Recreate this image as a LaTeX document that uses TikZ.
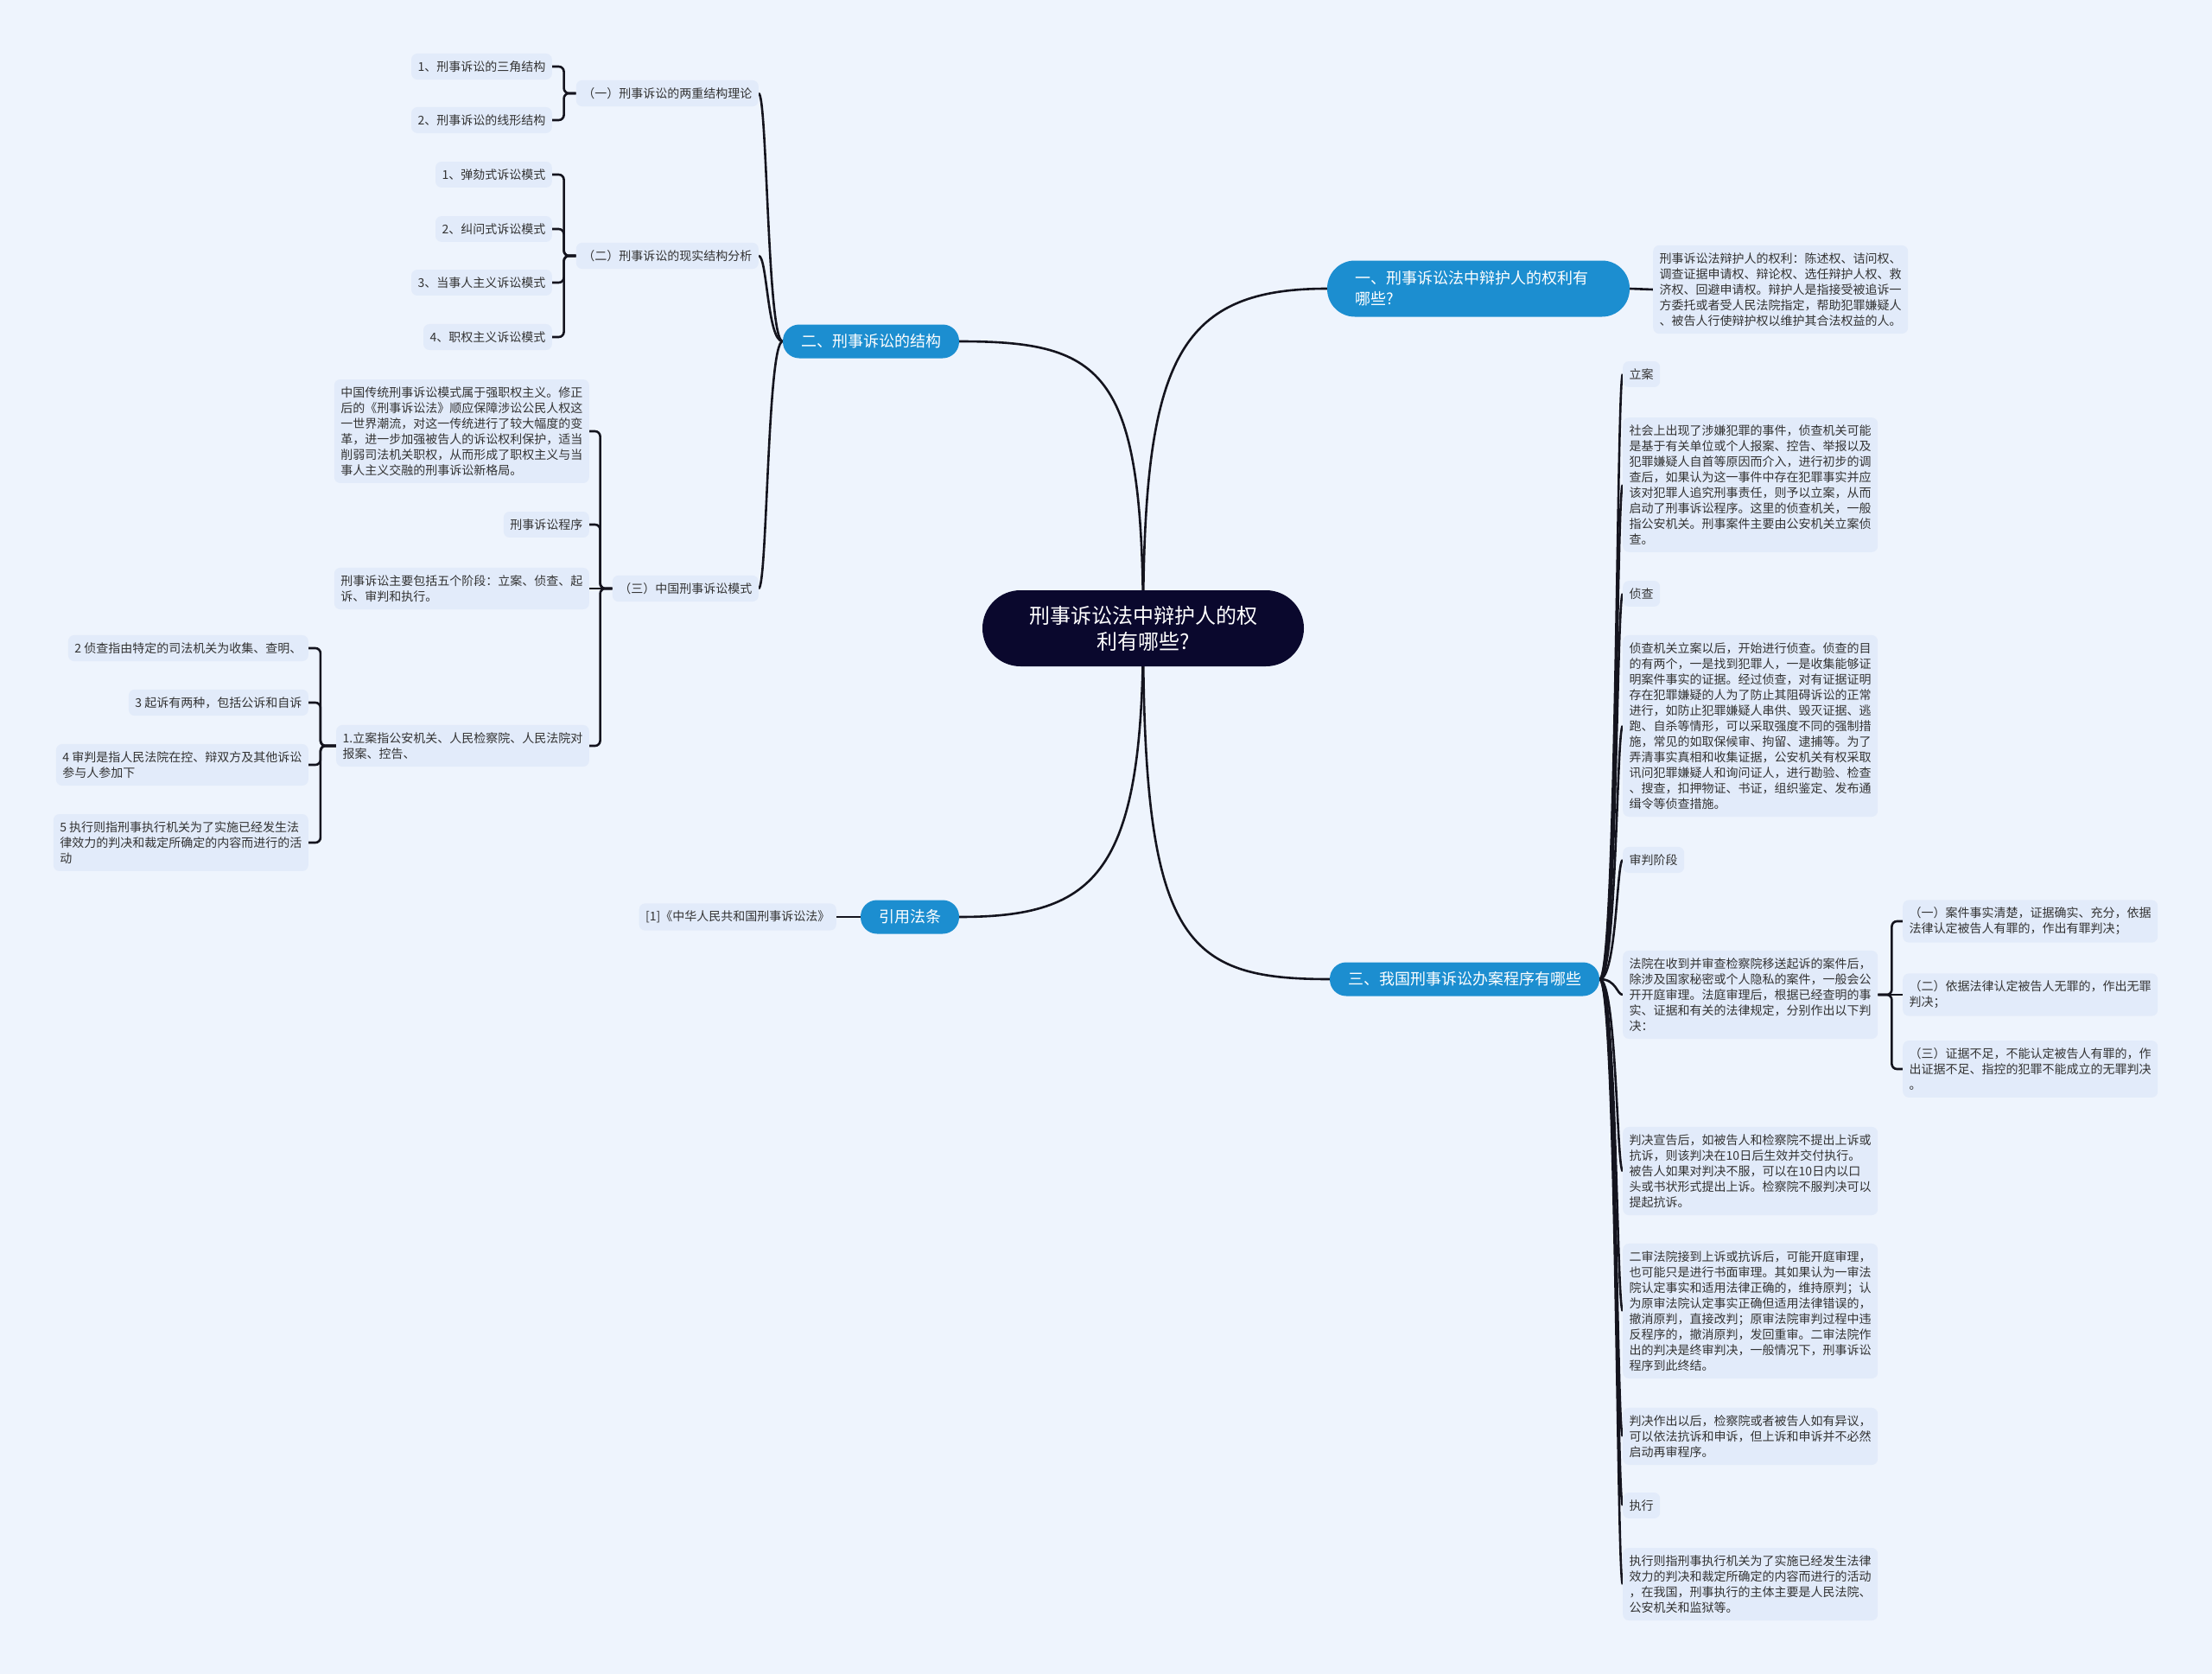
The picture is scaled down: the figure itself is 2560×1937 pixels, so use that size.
\documentclass[tikz,border=0pt]{standalone}
\usepackage{fontspec}
\setmainfont{Noto Sans CJK SC}
\usetikzlibrary{backgrounds}
\definecolor{canvasBlue}{RGB}{238,244,253}
\definecolor{leafFill}{RGB}{226,235,250}
\definecolor{branchBlue}{RGB}{28,142,208}
\definecolor{rootNavy}{RGB}{10,8,45}
\definecolor{inkGray}{RGB}{51,51,51}
\definecolor{lineInk}{RGB}{20,20,30}
\tikzset{
  rootnode/.style={fill=rootNavy,text=white,rounded corners=44pt,minimum width=372pt,minimum height=88pt,align=center,font=\fontsize{24}{30}\selectfont},
  branchnode/.style={fill=branchBlue,text=white,rounded corners=19pt,inner xsep=21pt,inner ysep=10.5pt,minimum height=39pt,font=\fontsize{18}{24}\selectfont},
  leafnode/.style={fill=leafFill,text=inkGray,rounded corners=7pt,inner xsep=7.5pt,inner ysep=8.5pt,align=left,font=\fontsize{14}{18}\selectfont},
  link/.style={draw=lineInk,line width=2.6pt},
  bracketlink/.style={draw=lineInk,line width=2.6pt,rounded corners=6pt}
}
\begin{document}
\begin{tikzpicture}[x=1pt,y=-1pt]
\node[rootnode] (rootq) at (1323,727) {刑事诉讼法中辩护人的权\\利有哪些?};

\node[branchnode,rounded corners=32pt,text width=286pt,align=left,inner xsep=32pt,minimum height=65pt] (rights) at (1711,334) {一、刑事诉讼法中辩护人的权利有\\哪些?};
\node[branchnode] (structure) at (1008,395) {二、刑事诉讼的结构};
\node[branchnode] (citation) at (1053,1061) {引用法条};
\node[branchnode] (procedure) at (1695,1133) {三、我国刑事诉讼办案程序有哪些};

\node[leafnode,anchor=west] (rightsnote) at (1913,335) {刑事诉讼法辩护人的权利：陈述权、诘问权、\\调查证据申请权、辩论权、选任辩护人权、救\\济权、回避申请权。辩护人是指接受被追诉一\\方委托或者受人民法院指定，帮助犯罪嫌疑人\\、被告人行使辩护权以维护其合法权益的人。};

\node[leafnode,anchor=east] (twofold) at (878,108) {（一）刑事诉讼的两重结构理论};
\node[leafnode,anchor=east] (actual) at (878,296) {（二）刑事诉讼的现实结构分析};
\node[leafnode,anchor=east] (chinamode) at (878,681) {（三）中国刑事诉讼模式};

\node[leafnode,anchor=east] (triangle) at (639,77) {1、刑事诉讼的三角结构};
\node[leafnode,anchor=east] (linear) at (639,139) {2、刑事诉讼的线形结构};
\node[leafnode,anchor=east] (impeach) at (639,202) {1、弹劾式诉讼模式};
\node[leafnode,anchor=east] (inquis) at (639,265) {2、纠问式诉讼模式};
\node[leafnode,anchor=east] (adversary) at (639,327) {3、当事人主义诉讼模式};
\node[leafnode,anchor=east] (authority) at (639,390) {4、职权主义诉讼模式};

\node[leafnode,anchor=east] (chinatext) at (682,499) {中国传统刑事诉讼模式属于强职权主义。修正\\后的《刑事诉讼法》顺应保障涉讼公民人权这\\一世界潮流，对这一传统进行了较大幅度的变\\革，进一步加强被告人的诉讼权利保护，适当\\削弱司法机关职权，从而形成了职权主义与当\\事人主义交融的刑事诉讼新格局。};
\node[leafnode,anchor=east] (procname) at (682,607) {刑事诉讼程序};
\node[leafnode,anchor=east] (fivestages) at (682,681) {刑事诉讼主要包括五个阶段：立案、侦查、起\\诉、审判和执行。};
\node[leafnode,anchor=east] (filing) at (682,863) {1.立案指公安机关、人民检察院、人民法院对\\报案、控告、};

\node[leafnode,anchor=east] (investdef) at (357,750) {2 侦查指由特定的司法机关为收集、查明、};
\node[leafnode,anchor=east] (prosecdef) at (357,813) {3 起诉有两种，包括公诉和自诉};
\node[leafnode,anchor=east] (trialdef) at (357,885) {4 审判是指人民法院在控、辩双方及其他诉讼\\参与人参加下};
\node[leafnode,anchor=east] (execdef) at (357,975) {5 执行则指刑事执行机关为了实施已经发生法\\律效力的判决和裁定所确定的内容而进行的活\\动};

\node[leafnode,anchor=east] (refbook) at (968,1061) {[1]《中华人民共和国刑事诉讼法》};

\node[leafnode,anchor=west] (stfiling) at (1878,433) {立案};
\node[leafnode,anchor=west] (stfilingtext) at (1878,561) {社会上出现了涉嫌犯罪的事件，侦查机关可能\\是基于有关单位或个人报案、控告、举报以及\\犯罪嫌疑人自首等原因而介入，进行初步的调\\查后，如果认为这一事件中存在犯罪事实并应\\该对犯罪人追究刑事责任，则予以立案，从而\\启动了刑事诉讼程序。这里的侦查机关，一般\\指公安机关。刑事案件主要由公安机关立案侦\\查。};
\node[leafnode,anchor=west] (stinvest) at (1878,687) {侦查};
\node[leafnode,anchor=west] (stinvesttext) at (1878,840) {侦查机关立案以后，开始进行侦查。侦查的目\\的有两个，一是找到犯罪人，一是收集能够证\\明案件事实的证据。经过侦查，对有证据证明\\存在犯罪嫌疑的人为了防止其阻碍诉讼的正常\\进行，如防止犯罪嫌疑人串供、毁灭证据、逃\\跑、自杀等情形，可以采取强度不同的强制措\\施，常见的如取保候审、拘留、逮捕等。为了\\弄清事实真相和收集证据，公安机关有权采取\\讯问犯罪嫌疑人和询问证人，进行勘验、检查\\、搜查，扣押物证、书证，组织鉴定、发布通\\缉令等侦查措施。};
\node[leafnode,anchor=west] (sttrial) at (1878,995) {审判阶段};
\node[leafnode,anchor=west] (sttrialtext) at (1878,1151) {法院在收到并审查检察院移送起诉的案件后，\\除涉及国家秘密或个人隐私的案件，一般会公\\开开庭审理。法庭审理后，根据已经查明的事\\实、证据和有关的法律规定，分别作出以下判\\决：};
\node[leafnode,anchor=west] (verdictguilty) at (2202,1066) {（一）案件事实清楚，证据确实、充分，依据\\法律认定被告人有罪的，作出有罪判决；};
\node[leafnode,anchor=west] (verdictinnocent) at (2202,1151) {（二）依据法律认定被告人无罪的，作出无罪\\判决；};
\node[leafnode,anchor=west] (verdictdoubt) at (2202,1237) {（三）证据不足，不能认定被告人有罪的，作\\出证据不足、指控的犯罪不能成立的无罪判决\\。};
\node[leafnode,anchor=west] (appealnote) at (1878,1355) {判决宣告后，如被告人和检察院不提出上诉或\\抗诉，则该判决在10日后生效并交付执行。\\被告人如果对判决不服，可以在10日内以口\\头或书状形式提出上诉。检察院不服判决可以\\提起抗诉。};
\node[leafnode,anchor=west] (secondtrial) at (1878,1517) {二审法院接到上诉或抗诉后，可能开庭审理，\\也可能只是进行书面审理。其如果认为一审法\\院认定事实和适用法律正确的，维持原判；认\\为原审法院认定事实正确但适用法律错误的，\\撤消原判，直接改判；原审法院审判过程中违\\反程序的，撤消原判，发回重审。二审法院作\\出的判决是终审判决，一般情况下，刑事诉讼\\程序到此终结。};
\node[leafnode,anchor=west] (retrialnote) at (1878,1662) {判决作出以后，检察院或者被告人如有异议，\\可以依法抗诉和申诉，但上诉和申诉并不必然\\启动再审程序。};
\node[leafnode,anchor=west] (stexec) at (1878,1742) {执行};
\node[leafnode,anchor=west] (stexectext) at (1878,1833) {执行则指刑事执行机关为了实施已经发生法律\\效力的判决和裁定所确定的内容而进行的活动\\，在我国，刑事执行的主体主要是人民法院、\\公安机关和监狱等。};

\begin{scope}[on background layer]
\fill[canvasBlue] (0,0) rectangle (2560,1937);
\draw[link] (rootq.center) .. controls (1323,420) and (1360,334) .. (rights.west);
\draw[link] (rootq.center) .. controls (1323,430) and (1280,395) .. (structure.east);
\draw[link] (rootq.center) .. controls (1323,1010) and (1270,1061) .. (citation.east);
\draw[link] (rootq.center) .. controls (1323,1090) and (1370,1133) .. (procedure.west);

\draw[link] (rights.east) -- (rightsnote.west);
\draw[link] (citation.west) -- (refbook.east);

\foreach \sub/\yy in {twofold/108,actual/296,chinamode/681}
  \draw[link] (structure.west) .. controls (888,395) and (888,\yy) .. (\sub.east);

\foreach \kid in {triangle,linear}
  \draw[bracketlink] (twofold.west) -- ++(-14,0) |- (\kid.east);
\foreach \kid in {impeach,inquis,adversary,authority}
  \draw[bracketlink] (actual.west) -- ++(-14,0) |- (\kid.east);
\foreach \kid in {chinatext,procname,filing}
  \draw[bracketlink] (chinamode.west) -- ++(-14,0) |- (\kid.east);
\draw[link] (chinamode.west) -- (fivestages.east);
\foreach \kid in {investdef,prosecdef,trialdef,execdef}
  \draw[bracketlink] (filing.west) -- ++(-18,0) |- (\kid.east);

\foreach \kid/\yy in {stfiling/433,stfilingtext/561,stinvest/687,stinvesttext/840,sttrial/995,sttrialtext/1151,appealnote/1355,secondtrial/1517,retrialnote/1662,stexec/1742,stexectext/1833}
  \draw[link] (procedure.east) .. controls (1871,1133) and (1871,\yy) .. (\kid.west);

\foreach \kid in {verdictguilty,verdictdoubt}
  \draw[bracketlink] (sttrialtext.east) -- ++(16,0) |- (\kid.west);
\draw[link] (sttrialtext.east) -- (verdictinnocent.west);
\end{scope}
\end{tikzpicture}
\end{document}
